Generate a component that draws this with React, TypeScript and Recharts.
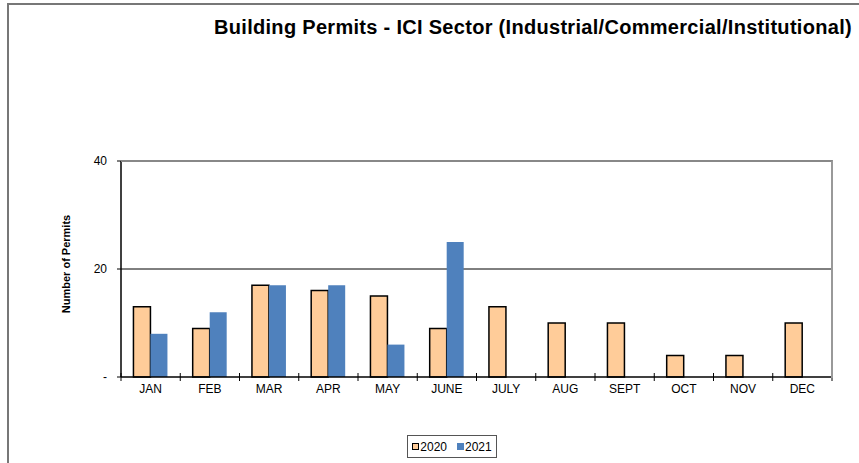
import { BarChart, Bar, XAxis, YAxis, CartesianGrid } from "recharts";

const months = ["JAN", "FEB", "MAR", "APR", "MAY", "JUNE", "JULY", "AUG", "SEPT", "OCT", "NOV", "DEC"];
const permits2020 = [13, 9, 17, 16, 15, 9, 13, 10, 10, 4, 4, 10];
const permits2021 = [8, 12, 17, 17, 6, 25, null, null, null, null, null, null];
const yTicks = [0, 20, 40];

const data = months.map((m, i) => ({
  month: m,
  y2020: permits2020[i],
  y2021: permits2021[i],
}));

const font = "'Liberation Sans', Arial, sans-serif";

// month label plus small tick marks crossing the axis at the band edges
const MonthTick = (props: any) => {
  const { x, y, payload, index } = props;
  const half = payload.offset || 0;
  const axisY = y - 4;
  return (
    <g>
      <line x1={x - half} x2={x - half} y1={axisY - 4} y2={axisY + 4} stroke="#000" />
      {index === months.length - 1 && (
        <line x1={x + half} x2={x + half} y1={axisY - 4} y2={axisY + 4} stroke="#000" />
      )}
      <text x={x} y={y} dy={12} textAnchor="middle" fill="#000" fontSize={12} fontFamily={font}>
        {payload.value}
      </text>
    </g>
  );
};

export default function App() {
  return (
    <div style={{ position: "absolute", left: 0, top: 0, width: 859, height: 463, overflow: "hidden", background: "#fff", fontFamily: font }}>
      <div style={{ position: "absolute", left: 7, top: 3, width: 900, height: 500, border: "2px solid #777" }} />
      <div style={{ position: "absolute", left: 193, top: 16, width: 680, textAlign: "center", fontSize: 20, letterSpacing: 0.3, fontWeight: "bold", whiteSpace: "nowrap" }}>
        Building Permits - ICI Sector (Industrial/Commercial/Institutional)
      </div>
      <div style={{ position: "absolute", left: 66, top: 264, transform: "translate(-50%, -50%) rotate(-90deg)", fontSize: 11, fontWeight: "bold", whiteSpace: "nowrap" }}>
        Number of Permits
      </div>
      <BarChart
        width={859}
        height={463}
        data={data}
        margin={{ top: 161, right: 27, bottom: 56, left: 81 }}
        barGap={0}
        barCategoryGap="21%"
        style={{ position: "absolute", left: 0, top: 0 }}
      >
        <CartesianGrid vertical={false} stroke="#000" horizontalValues={[20]} />
        <XAxis
          dataKey="month"
          height={30}
          tickLine={false}
          tickSize={0}
          tickMargin={4}
          axisLine={{ stroke: "#000", strokeWidth: 1.5 }}
          interval={0}
          tick={<MonthTick />}
        />
        <YAxis
          domain={[0, 40]}
          ticks={yTicks}
          width={40}
          tickSize={4}
          tickMargin={10}
          tickFormatter={(v: number) => (v === 0 ? "-" : String(v))}
          axisLine={{ stroke: "#000", strokeWidth: 1.5 }}
          tickLine={{ stroke: "#000" }}
          tick={{ fill: "#000", fontSize: 12, fontFamily: font }}
        />
        <Bar dataKey="y2020" fill="#FFCC99" stroke="#000" strokeWidth={1.5} isAnimationActive={false} />
        <Bar dataKey="y2021" fill="#4F81BD" isAnimationActive={false} />
      </BarChart>
      {/* plot frame top/right */}
      <div style={{ position: "absolute", left: 121, top: 160, width: 710, height: 216, borderTop: "2px solid #888", borderRight: "2px solid #999" }} />
      <div style={{ position: "absolute", left: 407, top: 435, width: 88, height: 21, border: "1px solid #555", fontSize: 12, display: "flex", alignItems: "center", justifyContent: "center", gap: 10 }}>
        <span style={{ display: "flex", alignItems: "center" }}>
          <span style={{ display: "inline-block", width: 5, height: 5, background: "#FFCC99", border: "1.5px solid #000", marginRight: 1 }} />
          2020
        </span>
        <span style={{ display: "flex", alignItems: "center" }}>
          <span style={{ display: "inline-block", width: 7, height: 7, background: "#4F81BD", marginRight: 1 }} />
          2021
        </span>
      </div>
    </div>
  );
}
